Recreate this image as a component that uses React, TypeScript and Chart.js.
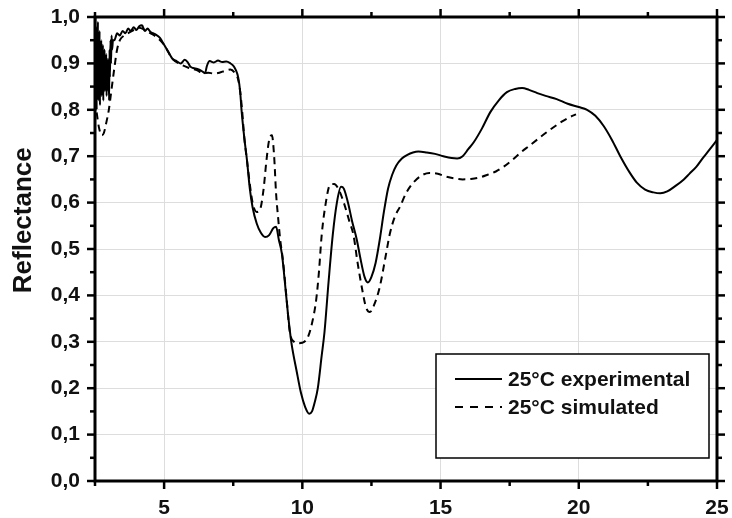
import { useEffect, useRef } from "react";
import { Chart, registerables } from "chart.js";

Chart.register(...registerables);

// ---- data ----
const xTicks = [5, 10, 15, 20, 25];
const xMinorTicks = [2.5, 7.5, 12.5, 17.5, 22.5];
const yTicks = [0, 0.1, 0.2, 0.3, 0.4, 0.5, 0.6, 0.7, 0.8, 0.9, 1.0];
const yMinorTicks = [0.05, 0.15, 0.25, 0.35, 0.45, 0.55, 0.65, 0.75, 0.85, 0.95];
const seriesLabels = ["25°C experimental", "25°C simulated"];
const yTitle = "Reflectance";

const expX = [
  2.5, 2.515, 2.53, 2.545, 2.56, 2.575, 2.59, 2.605, 2.62, 2.635, 2.65, 2.665, 2.68, 2.695, 2.71,
  2.725, 2.74, 2.755, 2.77, 2.785, 2.8, 2.815, 2.83, 2.845, 2.86, 2.875, 2.89, 2.905, 2.92, 2.935,
  2.95, 2.965, 2.98, 2.995, 3.01, 3.025, 3.04, 3.06, 3.08, 3.1, 3.12, 3.15,
  3.2, 3.3, 3.4, 3.5, 3.6, 3.7, 3.8, 3.9, 4.0, 4.1, 4.2, 4.3, 4.4, 4.5,
  4.6, 4.7, 4.85, 5.0, 5.15, 5.3, 5.45, 5.6, 5.75, 5.85, 5.95, 6.05, 6.2, 6.35, 6.48, 6.55, 6.65,
  6.8, 6.95, 7.1, 7.25, 7.4, 7.5, 7.6, 7.68, 7.75, 7.8, 7.9, 8.0, 8.1, 8.2, 8.35, 8.5, 8.65, 8.8,
  8.95, 9.05, 9.15, 9.26, 9.35, 9.48, 9.6, 9.8, 9.95, 10.1, 10.25, 10.35, 10.45, 10.56, 10.7, 10.8,
  10.95, 11.1, 11.25, 11.4, 11.5, 11.65, 11.8, 11.97, 12.1, 12.25, 12.37, 12.5, 12.65, 12.8, 12.95,
  13.1, 13.25, 13.4, 13.6, 13.8, 14.0, 14.2, 14.5, 14.8, 15.1, 15.4, 15.6, 15.8, 16.0, 16.2, 16.5,
  16.8, 17.1, 17.4, 17.7, 17.95, 18.2, 18.5, 18.8, 19.2, 19.6, 20.0, 20.3, 20.6, 20.9, 21.2, 21.5,
  21.85, 22.1, 22.4, 22.7, 22.95, 23.2, 23.5, 23.8, 24.0, 24.25, 24.5, 24.7, 25.0,
];
const expY = [
  0.88, 1.0, 0.83, 0.98, 0.8, 0.96, 0.85, 0.99, 0.82, 0.93, 0.86, 0.97, 0.81, 0.92, 0.85,
  0.95, 0.83, 0.9, 0.86, 0.94, 0.82, 0.91, 0.87, 0.93, 0.84, 0.9, 0.86, 0.92, 0.83, 0.89,
  0.85, 0.91, 0.84, 0.88, 0.82, 0.93, 0.87, 0.95, 0.9, 0.96, 0.93, 0.95,
  0.95, 0.965, 0.96, 0.97, 0.965, 0.975, 0.97, 0.978, 0.972, 0.98, 0.982,
  0.97, 0.975, 0.968, 0.965, 0.962, 0.955, 0.94, 0.925, 0.91, 0.905, 0.9, 0.908, 0.903, 0.893, 0.89,
  0.888, 0.884, 0.879, 0.895, 0.905, 0.902, 0.906, 0.903, 0.904, 0.9, 0.895, 0.885, 0.87, 0.84, 0.8,
  0.74, 0.69, 0.63, 0.59, 0.555, 0.535, 0.526, 0.53, 0.545, 0.548, 0.52, 0.49, 0.44, 0.36, 0.3, 0.235,
  0.19, 0.16, 0.145, 0.15, 0.17, 0.2, 0.27, 0.32, 0.43, 0.53, 0.6, 0.634, 0.63, 0.6, 0.56, 0.52, 0.48,
  0.44, 0.428, 0.44, 0.47, 0.52, 0.58, 0.63, 0.66, 0.68, 0.695, 0.703, 0.708, 0.71, 0.708, 0.705, 0.7,
  0.696, 0.695, 0.7, 0.715, 0.73, 0.76, 0.795, 0.82, 0.838, 0.845, 0.847, 0.843, 0.836, 0.83, 0.823,
  0.813, 0.806, 0.8, 0.787, 0.765, 0.735, 0.7, 0.664, 0.643, 0.628, 0.622, 0.62, 0.624, 0.636, 0.65,
  0.662, 0.677, 0.697, 0.712, 0.735,
];

const simX = [
  2.5, 2.57, 2.65, 2.75, 2.82, 2.9, 3.0, 3.1, 3.2, 3.3, 3.4, 3.55, 3.7, 3.9, 4.1, 4.3, 4.5, 4.7, 5.0,
  5.3, 5.6, 5.9, 6.2, 6.4, 6.6, 6.8, 7.0, 7.2, 7.4, 7.55, 7.68, 7.75, 7.82, 7.9, 8.0, 8.1, 8.2, 8.35,
  8.47, 8.6, 8.7, 8.8, 8.9, 8.98, 9.05, 9.12, 9.2, 9.3, 9.42, 9.55, 9.7, 9.84, 10.0, 10.2, 10.35, 10.5,
  10.6, 10.7, 10.85, 11.0, 11.15, 11.3, 11.5, 11.7, 11.85, 12.0, 12.19, 12.3, 12.44, 12.6, 12.8, 13.0,
  13.17, 13.35, 13.53, 13.75, 14.0, 14.3, 14.6, 14.9, 15.2, 15.5, 15.8, 16.1, 16.4, 16.7, 17.0, 17.3,
  17.6, 17.9, 18.2, 18.5, 18.8, 19.1, 19.4, 19.7, 19.9,
];
const simY = [
  0.82, 0.79, 0.76, 0.745, 0.75, 0.77, 0.8, 0.845, 0.89, 0.93, 0.95, 0.96, 0.965, 0.972, 0.977, 0.972,
  0.965, 0.958, 0.94, 0.91, 0.898, 0.89, 0.885, 0.879, 0.88, 0.878, 0.88, 0.884, 0.887, 0.88, 0.865,
  0.84, 0.8, 0.74, 0.69, 0.64, 0.6, 0.58, 0.585, 0.63, 0.69, 0.735, 0.745, 0.7, 0.62, 0.57, 0.52, 0.475,
  0.4, 0.32, 0.3, 0.297, 0.298, 0.31, 0.34, 0.39, 0.45, 0.53, 0.6, 0.638, 0.64, 0.63, 0.6, 0.56, 0.53,
  0.47, 0.405, 0.375, 0.364, 0.38, 0.418, 0.48, 0.534, 0.57, 0.591, 0.62, 0.642, 0.658, 0.664, 0.662,
  0.656, 0.652, 0.65, 0.651, 0.654, 0.66, 0.667, 0.678, 0.692, 0.708, 0.722, 0.736, 0.75, 0.763, 0.775,
  0.785, 0.79,
];

const FONT = "'Liberation Sans', Arial, sans-serif";
const fmt = (v: number) => v.toFixed(1).replace(".", ",");

const framePlugin = {
  id: "frameAndLegend",
  afterDraw(chart: any) {
    const { ctx, chartArea, scales } = chart;
    const { left, right, top, bottom } = chartArea;
    const xs = scales.x;
    const ys = scales.y;
    ctx.save();
    ctx.strokeStyle = "#000";
    ctx.lineCap = "butt";
    const seg = (x1: number, y1: number, x2: number, y2: number) => {
      ctx.beginPath();
      ctx.moveTo(x1, y1);
      ctx.lineTo(x2, y2);
      ctx.stroke();
    };
    ctx.lineWidth = 2.5;
    xTicks.forEach((v) => {
      const px = xs.getPixelForValue(v);
      seg(px, bottom, px, bottom + 8);
      seg(px, top, px, top - 8);
    });
    xMinorTicks.forEach((v) => {
      const px = xs.getPixelForValue(v);
      seg(px, bottom, px, bottom + 5);
      seg(px, top, px, top - 5);
    });
    yTicks.forEach((v) => {
      const py = ys.getPixelForValue(v);
      seg(left, py, left - 8, py);
      seg(right, py, right + 8, py);
    });
    yMinorTicks.forEach((v) => {
      const py = ys.getPixelForValue(v);
      seg(left, py, left - 5, py);
      seg(right, py, right + 5, py);
    });
    ctx.lineWidth = 3;
    ctx.strokeRect(left, top, right - left, bottom - top);

    // y-axis title
    ctx.save();
    ctx.translate(24, top + (bottom - top) * 0.438);
    ctx.rotate(-Math.PI / 2);
    ctx.fillStyle = "#111";
    ctx.font = `bold 26px ${FONT}`;
    ctx.textAlign = "center";
    ctx.textBaseline = "middle";
    ctx.fillText(yTitle, 0, 0);
    ctx.restore();

    // legend
    const bx = right - 281;
    const by = bottom - 127;
    const bw = 273;
    const bh = 104;
    ctx.fillStyle = "#fff";
    ctx.fillRect(bx, by, bw, bh);
    ctx.lineWidth = 1.5;
    ctx.strokeRect(bx, by, bw, bh);
    const rows = [
      { y: by + 25, dash: [] as number[] },
      { y: by + 53, dash: [8, 7] },
    ];
    rows.forEach((r, i) => {
      ctx.lineWidth = 2;
      ctx.setLineDash(r.dash);
      seg(bx + 19, r.y, bx + 66, r.y);
      ctx.setLineDash([]);
      ctx.fillStyle = "#111";
      ctx.font = `bold 21px ${FONT}`;
      ctx.textAlign = "left";
      ctx.textBaseline = "middle";
      ctx.fillText(seriesLabels[i], bx + 72, r.y + 1);
    });
    ctx.restore();
  },
};

export default function App() {
  const ref = useRef<HTMLCanvasElement | null>(null);
  useEffect(() => {
    if (!ref.current) return;
    const chart = new Chart(ref.current, {
      type: "line",
      data: {
        datasets: [
          {
            label: seriesLabels[0],
            data: expX.map((x, i) => ({ x, y: expY[i] })),
            borderColor: "#000",
            borderWidth: 2,
            pointRadius: 0,
            fill: false,
            cubicInterpolationMode: "monotone",
          },
          {
            label: seriesLabels[1],
            data: simX.map((x, i) => ({ x, y: simY[i] })),
            borderColor: "#000",
            borderWidth: 2,
            borderDash: [7, 5],
            pointRadius: 0,
            fill: false,
            cubicInterpolationMode: "monotone",
          },
        ],
      },
      options: {
        responsive: false,
        animation: false,
        layout: { padding: { left: 0, top: 17, right: 15, bottom: 0 } },
        plugins: { legend: { display: false }, tooltip: { enabled: false } },
        scales: {
          x: {
            type: "linear",
            min: 2.5,
            max: 25,
            afterBuildTicks: (s: any) => {
              s.ticks = xTicks.map((value) => ({ value }));
            },
            afterFit: (s: any) => {
              s.height = 37;
              s.paddingLeft = 0;
              s.paddingRight = 0;
            },
            grid: { color: "#dddddd", lineWidth: 1, drawTicks: false },
            border: { display: false },
            ticks: {
              padding: 15,
              color: "#111",
              font: { family: FONT, size: 21, weight: "bold" },
              maxRotation: 0,
              callback: (v: any) => String(v),
            },
          },
          y: {
            type: "linear",
            min: 0,
            max: 1,
            afterBuildTicks: (s: any) => {
              s.ticks = yTicks.map((value) => ({ value }));
            },
            afterFit: (s: any) => {
              s.width = 95;
              s.paddingTop = 0;
              s.paddingBottom = 0;
            },
            grid: { color: "#dddddd", lineWidth: 1, drawTicks: false },
            border: { display: false },
            ticks: {
              padding: 15,
              color: "#111",
              font: { family: FONT, size: 21, weight: "bold" },
              callback: (v: any) => fmt(Number(v)),
            },
          },
        },
      },
      plugins: [framePlugin],
    } as any);
    return () => chart.destroy();
  }, []);
  return (
    <div style={{ position: "fixed", left: 0, top: 0, width: 732, height: 518, background: "#fff" }}>
      <canvas ref={ref} width={732} height={518} style={{ width: 732, height: 518 }} />
    </div>
  );
}
